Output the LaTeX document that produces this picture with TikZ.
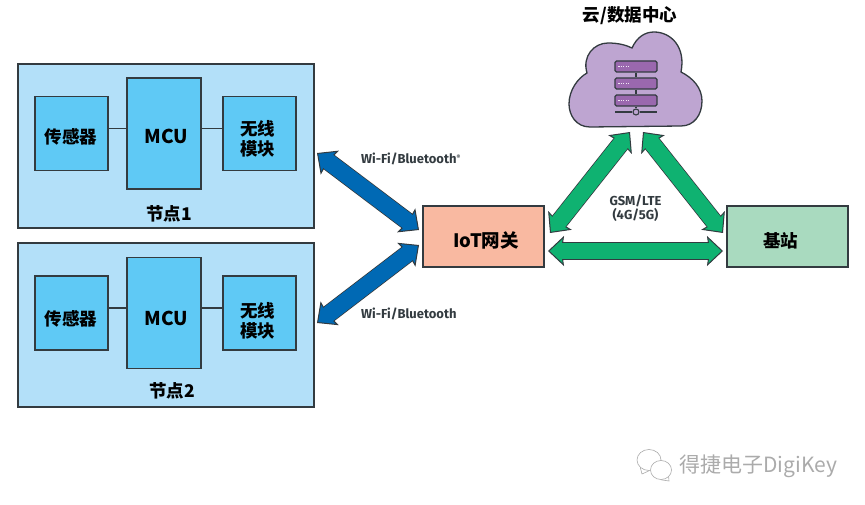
\documentclass[tikz,border=0pt]{standalone}
\usepackage{fontspec}
\setmainfont{Noto Sans CJK SC}
\newfontfamily\latinfont{Fira Sans}
\usetikzlibrary{arrows.meta,shapes.geometric}
\definecolor{edgegray}{HTML}{333B40}
\definecolor{nodeblue}{HTML}{B3E0F9}
\definecolor{partblue}{HTML}{5FC9F5}
\definecolor{linkblue}{HTML}{0069B4}
\definecolor{linkgreen}{HTML}{0FB271}
\definecolor{gatepeach}{HTML}{F9B9A1}
\definecolor{basegreen}{HTML}{A9DABF}
\definecolor{cloudlilac}{HTML}{BEA5D1}
\definecolor{rackpurple}{HTML}{9A68AE}
\definecolor{markgray}{HTML}{ABABAB}
\tikzset{
  box/.style={draw=edgegray,line width=1.5pt,inner sep=0pt},
  nodebox/.style={box,fill=nodeblue,minimum width=296pt,minimum height=164pt},
  partbox/.style={box,fill=partblue,minimum width=73pt,minimum height=74pt},
  mcubox/.style={box,fill=partblue,minimum width=74pt,minimum height=111pt},
  hubbox/.style={box,minimum width=121pt,minimum height=61pt},
  boxtext/.style={font=\bfseries\fontsize{17.5}{20}\selectfont,inner sep=0pt,align=center},
  bloblink/.style={double=#1,double distance=16pt,line width=1pt,draw=edgegray,
    {Stealth[length=16pt,width=30pt,inset=2pt,fill=#1,color=edgegray,line width=1pt]}-{Stealth[length=16pt,width=30pt,inset=2pt,fill=#1,color=edgegray,line width=1pt]},
    postaction={draw=#1,double=#1,double distance=16pt,line width=.05pt,-,shorten >=12pt,shorten <=12pt}},
  linklabel/.style={font=\latinfont\bfseries\fontsize{13}{14}\selectfont,text=edgegray,inner sep=0pt,align=center},
  rack/.style={draw=edgegray,line width=1.1pt,fill=rackpurple,rounded corners=1.5pt,minimum width=42pt,minimum height=11pt,inner sep=0pt},
  bubble/.style={draw=markgray,ellipse,line width=.6pt,inner sep=0pt,fill=white},
}
\begin{document}
\begin{tikzpicture}[x=1pt,y=-1pt]
\useasboundingbox (0,0) rectangle (865,505);

%Node 1
\node[nodebox] (node1) at (165.75,146){};
\node[partbox] (sensor1) at (71.5,133.5){};
\node[mcubox] (mcu1) at (164,133.5){};
\node[partbox] (radio1) at (259.5,133.5){};
\node[boxtext] (sensor1text) at (71,136.5){传感器};
\node[boxtext,font=\bfseries\fontsize{19}{20}\selectfont] (mcu1text) at (166.5,136.5){MCU};
\node[boxtext] (radio1text) at (257.5,138.5){无线\\模块};
\node[boxtext] (name1) at (169,213.5){节点1};
\draw[-, line width=1.2pt, edgegray] ([yshift=5pt]sensor1.east) -- ([yshift=5pt]mcu1.west);
\draw[-, line width=1.2pt, edgegray] ([yshift=5pt]mcu1.east) -- ([yshift=5pt]radio1.west);

%Node 2
\node[nodebox] (node2) at (165.75,325){};
\node[partbox] (sensor2) at (71.5,313){};
\node[mcubox] (mcu2) at (164,313){};
\node[partbox] (radio2) at (259.5,313){};
\node[boxtext] (sensor2text) at (71,318.5){传感器};
\node[boxtext,font=\bfseries\fontsize{19}{20}\selectfont] (mcu2text) at (166.5,318.5){MCU};
\node[boxtext] (radio2text) at (257.5,320.5){无线\\模块};
\node[boxtext] (name2) at (172,391){节点2};
\draw[-, line width=1.2pt, edgegray] ([yshift=5pt]sensor2.east) -- ([yshift=5pt]mcu2.west);
\draw[-, line width=1.2pt, edgegray] ([yshift=5pt]mcu2.east) -- ([yshift=5pt]radio2.west);

%Gateway and base station
\node[hubbox,fill=gatepeach] (gate) at (483.5,236.5){};
\node[hubbox,fill=basegreen] (base) at (787.5,236.5){};
\node[boxtext,font=\bfseries\fontsize{18.5}{20}\selectfont] (gatetext) at (486,240.5){IoT网关};
\node[boxtext] (basetext) at (780.5,240.5){基站};

%Cloud
\draw[edgegray,line width=1.3pt,fill=cloudlilac] (590,127)
  .. controls (576,127) and (569,115) .. (569,104)
  .. controls (569,90) and (578,78) .. (587,73)
  .. controls (582,56) and (594,43) .. (608,43)
  .. controls (618,43) and (626,45) .. (632,48)
  .. controls (637,37) and (645,32) .. (654,32)
  .. controls (671,32) and (686,47) .. (681,72)
  .. controls (693,78) and (702,88) .. (702,101)
  .. controls (702,115) and (694,126) .. (681,126)
  -- cycle;
\coordinate (cloudleft) at (630,132);
\coordinate (cloudright) at (643,132);
\node[rack] (rack1) at (636,66.5){};
\node[rack] (rack2) at (636,83.5){};
\node[rack] (rack3) at (636,100.5){};
\foreach \r in {rack1,rack2,rack3}{
  \draw[white!85!rackpurple,line width=1.5pt,dash pattern=on 1.2pt off 1.2pt] ([xshift=4pt]\r.west) -- ++(11,0);
}
\node[circle,draw=edgegray,line width=1.1pt,fill=cloudlilac,minimum size=6pt,inner sep=0pt] (tap) at (636,112){};
\coordinate (busleft) at (615,112);
\coordinate (busright) at (657,112);
\draw[-, line width=1.1pt, edgegray] (rack1) -- (rack2);
\draw[-, line width=1.1pt, edgegray] (rack2) -- (rack3);
\draw[-, line width=1.1pt, edgegray] (rack3) -- (tap);
\draw[-, line width=1.1pt, edgegray] (busleft) -- (tap);
\draw[-, line width=1.1pt, edgegray] (tap) -- (busright);
\node[boxtext] (cloudname) at (630,16){云/数据中心};

%Blue links
\coordinate (port1) at (317,153);
\coordinate (port2) at (317,323);
\coordinate (gateup) at (419,230);
\coordinate (gatedown) at (419,245);
\draw[bloblink=linkblue] (port1) -- (gateup);
\draw[bloblink=linkblue] (port2) -- (gatedown);
\node[linklabel,anchor=west] (wifi1) at (361,159){Wi-Fi/Bluetooth\raisebox{4pt}{\fontsize{6}{6}\selectfont®}};
\node[linklabel,anchor=west] (wifi2) at (361,314){Wi-Fi/Bluetooth};

%Green links
\coordinate (gatetop) at (550,233);
\coordinate (gateside) at (548,251);
\coordinate (basetop) at (723,233);
\coordinate (baseside) at (723,251);
\draw[bloblink=linkgreen] (gatetop) -- (cloudleft);
\draw[bloblink=linkgreen] (cloudright) -- (basetop);
\draw[bloblink=linkgreen] (gateside) -- (baseside);
\node[linklabel] (gsm) at (635.5,208){GSM/LTE\\(4G/5G)};

%Account mark
\node[bubble,minimum width=24pt,minimum height=21pt] (bubble1) at (649,460){};
\coordinate (tail1) at (642,474);
\draw[markgray,line width=.6pt] (bubble1.south west) -- (tail1) -- (bubble1.south);
\node[bubble,minimum width=21pt,minimum height=19pt] (bubble2) at (661,470){};
\coordinate (tail2) at (669,481);
\draw[markgray,line width=.6pt] (bubble2.south east) -- (tail2) -- (bubble2.south);
\node[font=\fontsize{21}{24}\selectfont,text=markgray,inner sep=0pt,anchor=west] (mark) at (679,466){得捷电子DigiKey};
\end{tikzpicture}
\end{document}
